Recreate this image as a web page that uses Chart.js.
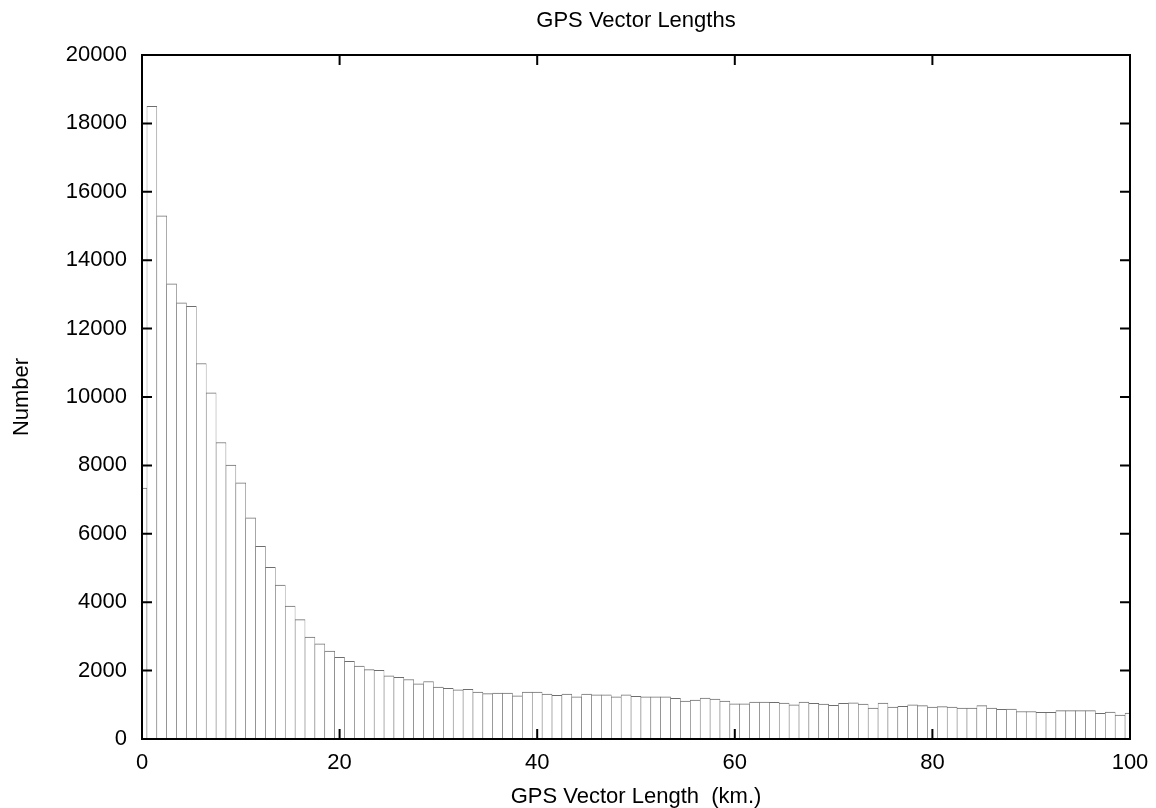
<!DOCTYPE html>
<html>
<head>
<meta charset="utf-8">
<script src="https://cdn.jsdelivr.net/npm/chart.js@4"></script>
<style>
  html, body { margin: 0; padding: 0; background: #fff; }
  #wrap { width: 1156px; height: 808px; }
</style>
</head>
<body>
<div id="wrap"><canvas id="c" width="1156" height="808"></canvas></div>
<script>
// Histogram bin centres (km) and counts
const binCentres = [
  0,1,2,3,4,5,6,7,8,9,10,11,12,13,14,15,16,17,18,19,
  20,21,22,23,24,25,26,27,28,29,30,31,32,33,34,35,36,37,38,39,
  40,41,42,43,44,45,46,47,48,49,50,51,52,53,54,55,56,57,58,59,
  60,61,62,63,64,65,66,67,68,69,70,71,72,73,74,75,76,77,78,79,
  80,81,82,83,84,85,86,87,88,89,90,91,92,93,94,95,96,97,98,99,100
];
const counts = [
  7340,18500,15300,13310,12750,12650,10980,10120,8670,8010,
  7490,6470,5630,5020,4500,3890,3490,2980,2780,2570,
  2390,2270,2130,2030,2010,1850,1800,1740,1610,1680,
  1520,1480,1440,1450,1375,1325,1345,1345,1260,1375,
  1375,1315,1275,1315,1230,1315,1290,1295,1230,1295,
  1245,1230,1230,1230,1190,1110,1140,1200,1170,1110,
  1030,1030,1080,1080,1070,1050,1000,1080,1040,1020,
  985,1040,1060,1020,905,1050,935,955,1000,975,
  935,945,935,905,905,975,905,865,875,805,
  805,780,780,830,830,830,830,750,790,700,760
];
const xTicks = [0, 20, 40, 60, 80, 100];
const yTicks = [0, 2000, 4000, 6000, 8000, 10000, 12000, 14000, 16000, 18000, 20000];

const chartTitle = 'GPS Vector Lengths';
const xTitle = 'GPS Vector Length  (km.)';
const yTitle = 'Number';

const FONT = '"Liberation Sans", Arial, sans-serif';

const points = binCentres.map((x, i) => ({ x: x, y: counts[i] }));

const frameTicks = {
  id: 'frameTicks',
  afterDatasetsDraw(chart) {
    const { ctx, chartArea: a, scales } = chart;
    const xs = scales.x, ys = scales.y;
    ctx.save();
    ctx.strokeStyle = '#000';
    ctx.lineWidth = 2;
    ctx.beginPath();
    xs.ticks.forEach(t => {
      const px = xs.getPixelForValue(t.value);
      ctx.moveTo(px, a.bottom); ctx.lineTo(px, a.bottom - 10);
      ctx.moveTo(px, a.top); ctx.lineTo(px, a.top + 10);
    });
    ys.ticks.forEach(t => {
      const py = ys.getPixelForValue(t.value);
      ctx.moveTo(a.left, py); ctx.lineTo(a.left + 10, py);
      ctx.moveTo(a.right, py); ctx.lineTo(a.right - 10, py);
    });
    ctx.stroke();
    ctx.strokeRect(a.left, a.top, a.right - a.left, a.bottom - a.top);
    ctx.restore();
  }
};

new Chart(document.getElementById('c'), {
  type: 'bar',
  data: {
    datasets: [{
      data: points,
      backgroundColor: '#ffffff',
      borderColor: '#6e6e6e',
      borderWidth: { top: 1, left: 0.6, right: 0.6, bottom: 0 },
      borderSkipped: false,
      barPercentage: 1,
      categoryPercentage: 1,
      clip: 0
    }]
  },
  options: {
    responsive: false,
    animation: false,
    events: [],
    layout: { padding: { top: 0, right: 26, bottom: 0, left: 0 } },
    plugins: {
      legend: { display: false },
      tooltip: { enabled: false },
      title: {
        display: true,
        text: chartTitle,
        fullSize: false,
        color: '#000',
        font: { family: FONT, size: 22, weight: 'normal', lineHeight: 1.2 },
        padding: { top: 8, bottom: 20.6 }
      }
    },
    scales: {
      x: {
        type: 'linear',
        min: 0,
        max: 100,
        offset: false,
        grid: { display: false, drawTicks: false, offset: false },
        border: { display: false },
        afterBuildTicks: s => { s.ticks = xTicks.map(v => ({ value: v })); },
        ticks: {
          color: '#000',
          padding: 11,
          maxRotation: 0,
          font: { family: FONT, size: 22 }
        },
        title: {
          display: true,
          text: xTitle,
          color: '#000',
          font: { family: FONT, size: 22, lineHeight: 1.0 },
          padding: { top: 0, bottom: 0 }
        },
        afterFit: s => { s.height = 69; s.paddingLeft = 0; s.paddingRight = 0; }
      },
      y: {
        type: 'linear',
        min: 0,
        max: 20000,
        grid: { display: false, drawTicks: false },
        border: { display: false },
        afterBuildTicks: s => { s.ticks = yTicks.map(v => ({ value: v })); },
        ticks: {
          color: '#000',
          padding: 15,
          font: { family: FONT, size: 22 },
          callback: v => String(v)
        },
        title: {
          display: true,
          text: yTitle,
          color: '#000',
          font: { family: FONT, size: 22, lineHeight: 1.2 },
          padding: { top: 8.8, bottom: 0 }
        },
        afterFit: s => { s.width = 142; s.paddingTop = 0; s.paddingBottom = 0; }
      }
    }
  },
  plugins: [frameTicks]
});
</script>
</body>
</html>
